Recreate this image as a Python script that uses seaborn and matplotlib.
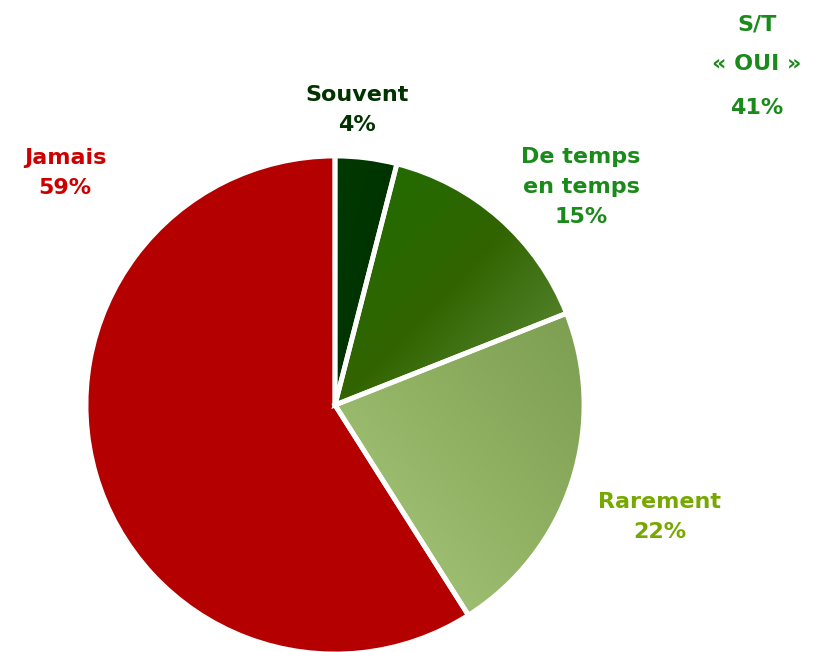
import matplotlib
matplotlib.use("Agg")
import matplotlib.pyplot as plt
from matplotlib.colors import LinearSegmentedColormap
import numpy as np
import seaborn as sns

labels = ["Souvent", "De temps\nen temps", "Rarement", "Jamais"]
values = [4, 15, 22, 59]
label_colors = ["#003300", "#1a8a1a", "#77a800", "#cc0000"]
# colour stops for each wedge gradient, and the direction of the gradient
wedge_stops = [["#003a00", "#003300", "#002c00"],
               ["#1d6e00", "#316400", "#649040"],
               ["#aacb82", "#92b264", "#7c9e50"],
               ["#b50000", "#b50000", "#b50000"]]
wedge_dirs = ["tl", "tl", "bl", "tl"]
summary_lines = ["S/T", "« OUI »", "41%"]

sns.set_style("white")
plt.rcParams["font.family"] = ["DejaVu Sans"]

fig = plt.figure(figsize=(8.15, 6.52), dpi=100)
ax = fig.add_axes([0, 0, 1, 1])

cx, cy, r = 335, 652 - 405, 249
wedges, _ = ax.pie(values, startangle=90, counterclock=False,
                   center=(cx, cy), radius=r,
                   wedgeprops=dict(linewidth=0, edgecolor="none"))

for w, stops, d in zip(wedges, wedge_stops, wedge_dirs):
    ext = w.get_path().get_extents()
    x0, y0, x1, y1 = ext.x0, ext.y0, ext.x1, ext.y1
    xs = np.linspace(0, 1, 200)
    X, Y = np.meshgrid(xs, xs)
    if d == "tl":
        t = (X + (1 - Y)) / 2
    else:
        t = (X + Y) / 2
    cmap = LinearSegmentedColormap.from_list("g", stops)
    im = ax.imshow(t, cmap=cmap, extent=[x0, x1, y0, y1], origin="lower",
                   aspect="auto", zorder=2, interpolation="bilinear")
    im.set_clip_path(w)
    w.set_facecolor(stops[1])

# white separators on top
edges, _ = ax.pie(values, startangle=90, counterclock=False,
                  center=(cx, cy), radius=r,
                  wedgeprops=dict(facecolor="none", edgecolor="white",
                                  linewidth=3.5, zorder=3))

ax.set_xlim(0, 815)
ax.set_ylim(0, 652)
ax.set_aspect("equal")
ax.axis("off")

H = 652
label_pos = [(357, 110), (581, 187), (660, 517), (65, 173)]
for lab, v, col, (x, y) in zip(labels, values, label_colors, label_pos):
    ax.text(x, H - y, f"{lab}\n{v}%", color=col, ha="center", va="center",
            fontsize=16, fontweight="bold", linespacing=1.65, zorder=5)

for txt, y in zip(summary_lines, [24, 64, 108]):
    ax.text(757, H - y, txt, color="#1a8a1a", ha="center", va="center",
            fontsize=16, fontweight="bold")

fig.savefig("out.png", dpi=100)
